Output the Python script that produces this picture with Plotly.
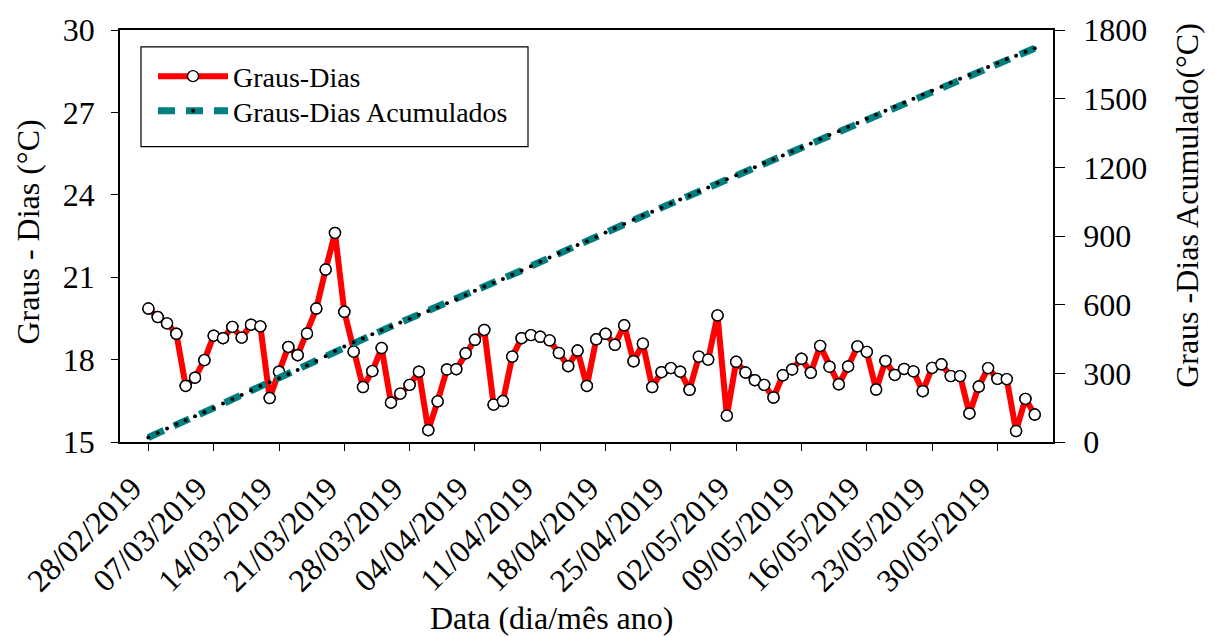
import numpy as np
import pandas as pd
import plotly.graph_objects as go

# Daily degree-days (°C), 28/02/2019 to 03/06/2019
graus_dias = [
    19.86, 19.55, 19.32, 18.94, 17.04, 17.34, 17.98, 18.87, 18.78, 19.19,
    18.80, 19.27, 19.21, 16.60, 17.56, 18.46, 18.16, 18.95, 19.86, 21.28,
    22.61, 19.74, 18.29, 17.00, 17.58, 18.42, 16.43, 16.76, 17.08, 17.56,
    15.43, 16.48, 17.64, 17.65, 18.23, 18.72, 19.08, 16.36, 16.49, 18.11,
    18.78, 18.89, 18.83, 18.70, 18.24, 17.76, 18.33, 17.04, 18.74, 18.94,
    18.54, 19.25, 17.94, 18.58, 17.00, 17.54, 17.69, 17.56, 16.90, 18.11,
    18.00, 19.61, 15.96, 17.92, 17.53, 17.25, 17.08, 16.62, 17.43, 17.64,
    18.03, 17.52, 18.50, 17.74, 17.10, 17.75, 18.48, 18.28, 16.91, 17.95,
    17.44, 17.66, 17.57, 16.85, 17.70, 17.83, 17.40, 17.40, 16.04, 17.02,
    17.69, 17.30, 17.29, 15.40, 16.57, 16.00,
]
datas = pd.date_range("2019-02-28", periods=len(graus_dias), freq="D")
# accumulated degree-days
acumulados = np.cumsum(graus_dias)

tick_datas = pd.date_range("2019-02-28", "2019-05-30", freq="7D")
tick_textos = [d.strftime("%d/%m/%Y") for d in tick_datas]

FONT = "Liberation Serif"
W, H = 1214, 637
ML, MR, MT, MB = 120, 161, 25, 195
PW, PH = W - ML - MR, H - MT - MB


def px_x(px):
    return (px - ML) / PW


def px_y(py):
    return (H - MB - py) / PH


fig = go.Figure()

fig.add_trace(go.Scatter(
    x=datas, y=graus_dias, name="Graus-Dias", mode="lines+markers",
    line=dict(color="#ff0000", width=6),
    marker=dict(size=11, color="white", line=dict(color="black", width=1.4)),
    yaxis="y", legend="legend",
))
fig.add_trace(go.Scatter(
    x=datas, y=acumulados, name="Graus-Dias Acumulados", mode="lines+markers",
    line=dict(color="#008080", width=7, dash="17px,11px"),
    marker=dict(size=4, color="black"),
    yaxis="y2", legend="legend2",
))
# markers redrawn on top of the accumulated line
fig.add_trace(go.Scatter(
    x=datas, y=graus_dias, mode="markers", showlegend=False, hoverinfo="skip",
    marker=dict(size=11, color="white", line=dict(color="black", width=1.4)),
    yaxis="y",
))

axis_common = dict(
    showline=True, linecolor="black", linewidth=1.5, ticks="outside",
    tickcolor="black", showgrid=False, zeroline=False,
    tickfont=dict(family=FONT, size=32, color="black"),
)

legend_common = dict(
    xanchor="left", yanchor="middle", borderwidth=0, bgcolor="rgba(0,0,0,0)",
    font=dict(family=FONT, size=28, color="black"), itemwidth=70,
)

fig.update_layout(
    width=W, height=H,
    margin=dict(l=ML, r=MR, t=MT, b=MB),
    paper_bgcolor="white", plot_bgcolor="white",
    font=dict(family=FONT, color="black"),
    xaxis=dict(
        **axis_common,
        type="date",
        range=["2019-02-24 23:00", "2019-06-04 23:00"],
        tickvals=tick_datas, ticktext=tick_textos, tickangle=-45,
        ticklen=7, mirror=True, ticklabelstandoff=6, ticklabelshift=-16,
    ),
    yaxis=dict(
        **axis_common, range=[15, 30], dtick=3, tick0=15, ticklen=7,
        ticklabelstandoff=10,
    ),
    yaxis2=dict(
        **axis_common, range=[0, 1800], dtick=300, tick0=0, ticklen=10,
        overlaying="y", side="right", ticklabelstandoff=12,
    ),
    legend=dict(**legend_common, x=px_x(153), y=px_y(72)),
    legend2=dict(**legend_common, x=px_x(153), y=px_y(107)),
    shapes=[
        dict(type="rect", xref="paper", yref="paper",
             x0=px_x(141), x1=px_x(528), y0=px_y(143), y1=px_y(42),
             line=dict(color="black", width=1.2), fillcolor="white", layer="below"),
    ],
    annotations=[
        dict(text="Graus - Dias (°C)", textangle=-90, xref="paper", yref="paper",
             x=px_x(28), y=px_y(230), xanchor="center", yanchor="middle", showarrow=False,
             font=dict(family=FONT, size=32, color="black")),
        dict(text="Graus -Dias Acumulado(°C)", textangle=-90, xref="paper", yref="paper",
             x=px_x(1187), y=px_y(203), xanchor="center", yanchor="middle", showarrow=False,
             font=dict(family=FONT, size=32, color="black")),
        dict(text="Data (dia/mês ano)", xref="paper", yref="paper",
             x=px_x(551), y=px_y(620), xanchor="center", yanchor="middle", showarrow=False,
             font=dict(family=FONT, size=32, color="black")),
    ],
)

fig.write_html("out.html")
